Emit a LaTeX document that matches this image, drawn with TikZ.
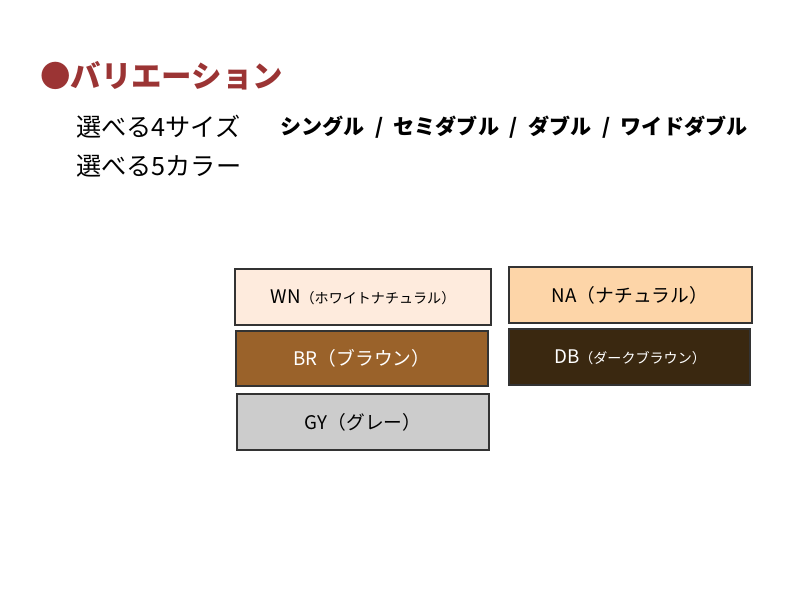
\documentclass[tikz,border=0pt]{standalone}
\usepackage{fontspec}
\setmainfont{Noto Sans CJK JP}
\definecolor{titlered}{HTML}{9B3434}
\definecolor{wncol}{HTML}{FEEBDD}
\definecolor{nacol}{HTML}{FDD5A8}
\definecolor{brcol}{HTML}{9A622A}
\definecolor{dbcol}{HTML}{3A2810}
\definecolor{gycol}{HTML}{CCCCCC}
\tikzset{colorbox/.style={draw=black!80,line width=1.2pt,inner sep=0pt}}
\newcommand{\boxtext}[1]{\fontsize{16}{16}\selectfont #1}
\newcommand{\smalltext}[1]{{\fontsize{12}{12}\selectfont #1}}
\newcommand{\sep}{\hspace{0.5em}/\hspace{0.5em}}
\begin{document}
\begin{tikzpicture}[x=0.03cm,y=-0.03cm]
        \useasboundingbox (0,0) rectangle (800,600);
        % heading
        \node[anchor=west,text=titlered,font=\fontsize{26}{26}\selectfont\bfseries] (title) at (36,76) {●バリエーション};
        \node[anchor=west,font=\fontsize{21.5}{21.5}\selectfont] (sizes) at (72,127) {選べる4サイズ};
        \node[anchor=west,font=\fontsize{18}{18}\selectfont\bfseries] (sizelist) at (276,127) {シングル\sep セミダブル\sep ダブル\sep ワイドダブル};
        \node[anchor=west,font=\fontsize{21.5}{21.5}\selectfont] (colors) at (72,166) {選べる5カラー};
        % colour boxes
        \draw[colorbox,fill=wncol] (235,269) rectangle (491,325);
        \draw[colorbox,fill=nacol] (509,267) rectangle (752,323);
        \draw[colorbox,fill=brcol] (236,331) rectangle (488,386);
        \draw[colorbox,fill=dbcol] (509,329) rectangle (750,385);
        \draw[colorbox,fill=gycol] (237,394) rectangle (489,450);
        \node (wn) at (363,297) {\boxtext{WN\smalltext{（ホワイトナチュラル）}}};
        \node (na) at (630,295) {\boxtext{NA（ナチュラル）}};
        \node[text=white] (br) at (362,358) {\boxtext{BR（ブラウン）}};
        \node[text=white] (db) at (630,357) {\boxtext{DB\smalltext{（ダークブラウン）}}};
        \node (gy) at (363,422) {\boxtext{GY（グレー）}};
    \end{tikzpicture}
\end{document}
